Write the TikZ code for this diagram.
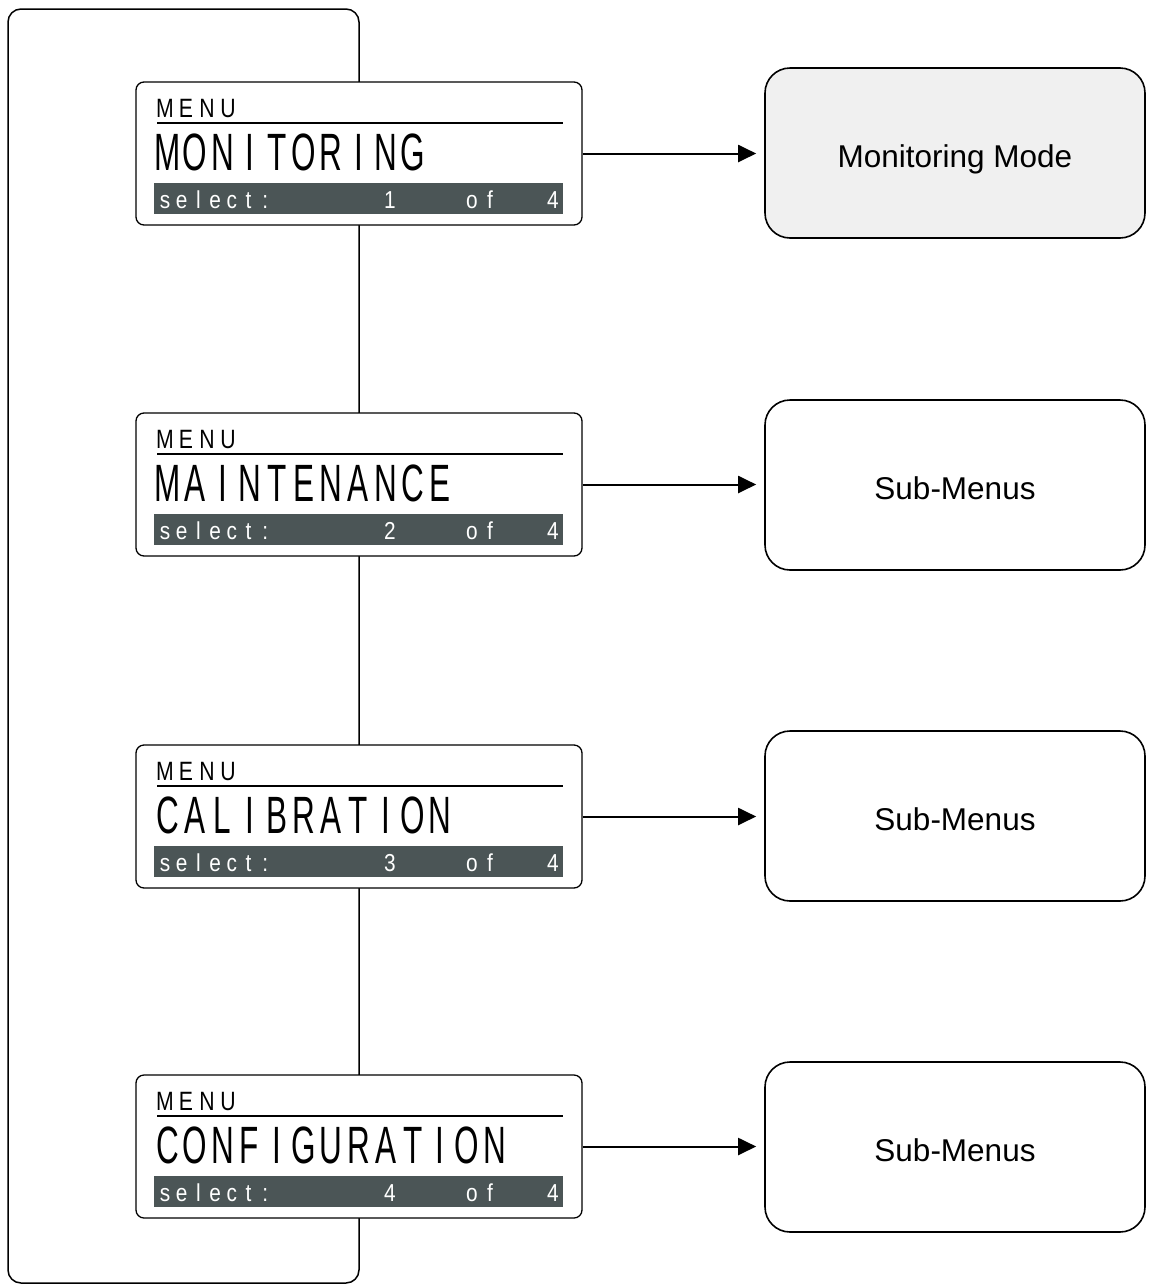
\documentclass[tikz,border=0pt]{standalone}
\usepackage{fontspec}
\setmainfont{Liberation Sans}
\newfontfamily\lcdbig[FakeStretch=0.6]{Liberation Sans}
\newfontfamily\lcdmid[FakeStretch=0.8]{Liberation Sans}
\newfontfamily\lcdsel[FakeStretch=0.85]{Liberation Sans}
\usetikzlibrary{arrows.meta}
\definecolor{lcdbar}{RGB}{75,85,86}
\definecolor{modefill}{RGB}{240,240,240}

\begin{document}
\begin{tikzpicture}[x=1pt,y=-1pt,>={Triangle[length=18pt,width=17pt]}]
  \tikzset{lcdbox/.style={draw,line width=1.3pt,fill=white,rounded corners=8pt,
           minimum width=446pt,minimum height=143pt,inner sep=0pt}}
  \tikzset{menubox/.style={draw,line width=1.6pt,rounded corners=25pt,
           minimum width=380pt,minimum height=170pt,text height=28.6pt,text depth=0pt,
           font=\fontsize{31.5}{36}\selectfont}}
  \tikzset{glyph/.style={anchor=base,inner sep=0pt}}
  \useasboundingbox (0,0) rectangle (1150,1286);
  \draw[line width=1.5pt,rounded corners=13pt] (8,9) rectangle (359,1283);

  \foreach \n/\top/\word in {1/82/{M,O,N,I,T,O,R,I,N,G},
                             2/413/{M,A,I,N,T,E,N,A,N,C,E},
                             3/745/{C,A,L,I,B,R,A,T,I,O,N},
                             4/1075/{C,O,N,F,I,G,U,R,A,T,I,O,N}}{
    \node[lcdbox] (p\n) at (359,\top+71.5) {};
    \foreach \ch [count=\k from 0] in {M,E,N,U}
      \node[glyph] (p\n-m\k) at ({165+21*\k},\top+35) {\lcdmid\fontsize{26.5}{30}\selectfont\ch};
    \draw[line width=1.2pt] (157,\top+41) -- (563,\top+41);
    \foreach \ch [count=\k from 0] in \word
      \node[glyph] (p\n-t\k) at ({168+27.2*\k},\top+88) {\lcdbig\fontsize{52.5}{60}\selectfont\ch};
    \fill[lcdbar] (154,\top+101) rectangle (563,\top+132);
    \foreach \ch/\cx [count=\k] in {s/165,e/181.7,l/198.4,e/215.1,c/231.8,t/248.5,:/265.2,
                                    \n/390,o/472,f/490,4/553}
      \node[glyph,text=white] (p\n-s\k) at (\cx,\top+126) {\lcdsel\fontsize{24.5}{28}\selectfont\ch};
  }

  \foreach \n/\cy/\txt/\bg in {1/153/Monitoring Mode/modefill,2/485/Sub-Menus/white,
                               3/816/Sub-Menus/white,4/1147/Sub-Menus/white}{
    \node[menubox,fill=\bg] (b\n) at (955,\cy) {\txt};
    \draw[->,line width=2pt,shorten >=8pt] (p\n.east) -- (p\n.east -| b\n.west);
  }
\end{tikzpicture}
\end{document}
